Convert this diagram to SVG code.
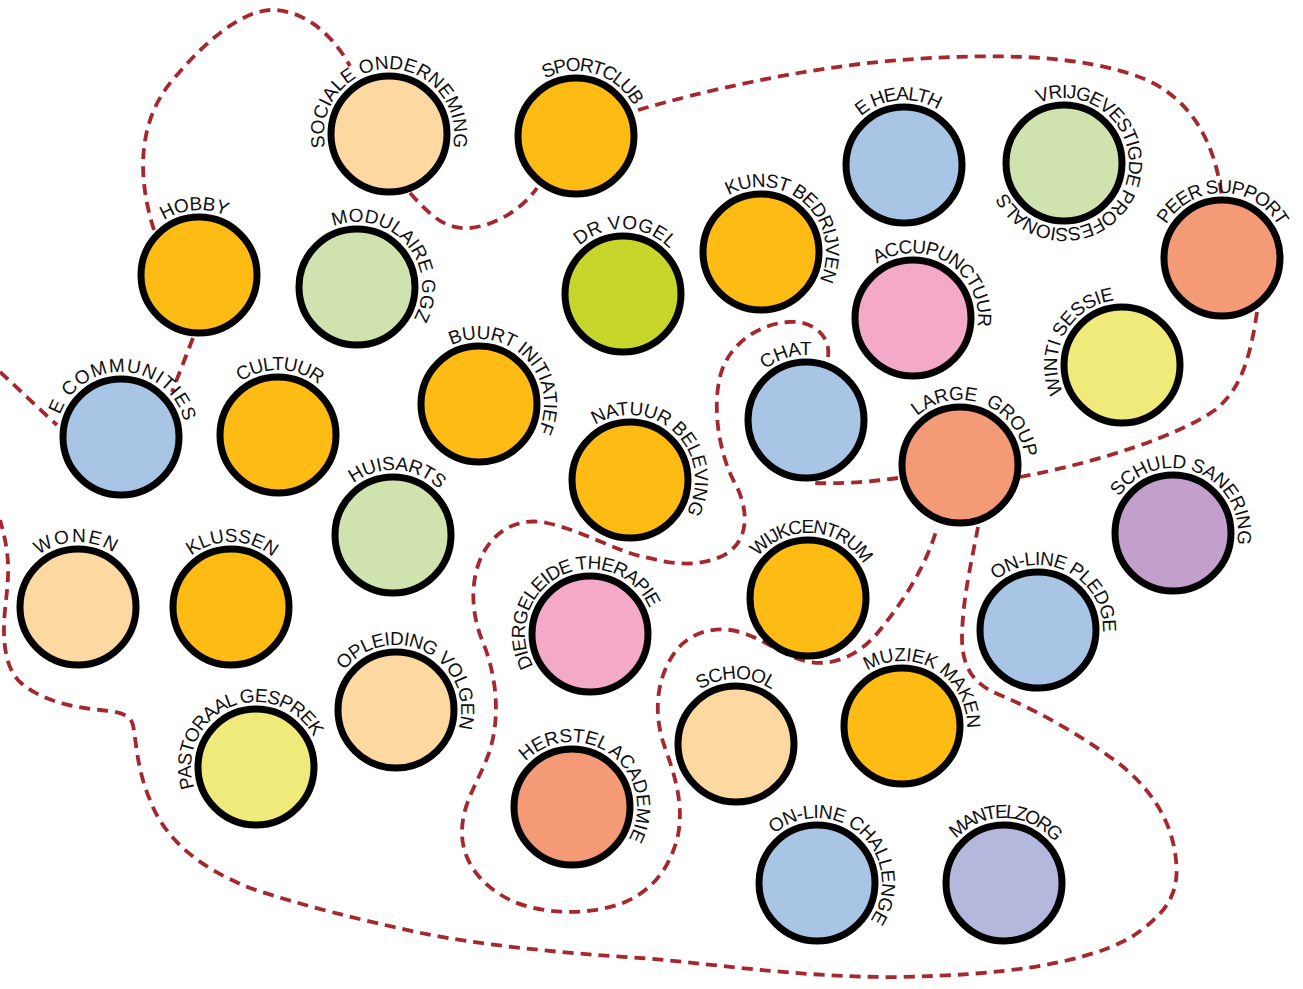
<svg xmlns="http://www.w3.org/2000/svg" xmlns:xlink="http://www.w3.org/1999/xlink" width="1303" height="989" viewBox="0 0 1303 989">
<style>
.n circle{stroke:#000;stroke-width:7}
.n text{font-family:"Liberation Sans",Arial,sans-serif;font-size:19px;fill:#111}
.c path{fill:none;stroke:#A5282E;stroke-width:3.8;stroke-dasharray:11 7;stroke-linecap:butt}
.or{fill:#FDBB14}.pe{fill:#FDD8A0}.bl{fill:#A9C5E6}.gr{fill:#D0E3AE}.li{fill:#C8D62B}
.pk{fill:#F4A9C8}.ye{fill:#EFEA79}.sa{fill:#F49A77}.pu{fill:#C39FCB}.la{fill:#B4B8DD}
</style>
<defs>
<path id="ring" d="M0,65 A65,65 0 1 1 0,-65 A65,65 0 1 1 0,65"/>
</defs>
<rect width="1303" height="989" fill="#fff"/>
<g id="connectors" class="c">
<path d="M0,372 C20,390 40,410 57,425"/>
<path d="M193,338 L172,392"/>
<path d="M154,230 C138,180 135,120 177,75 C205,42 240,12 270,10 C300,9 330,30 350,66"/>
<path d="M410,193 C430,215 445,230 470,228 C500,225 525,205 537,188"/>
<path d="M638,110 C700,92 800,68 900,60 C980,54 1080,52 1147,80 C1190,100 1215,140 1222,198"/>
<path d="M1257,312 C1250,360 1240,390 1215,410 C1180,435 1100,462 1020,477"/>
<path d="M898,478 C870,482 840,484 815,483"/>
<path d="M828,357 C831,335 812,320 788,322 C762,324 733,340 722,370 C711,402 718,455 737,487 C750,515 748,545 720,557 C692,569 665,562 640,556 C615,550 580,530 547,523 C525,518 500,525 485,550 C470,575 470,610 482,640 C494,668 502,710 490,750 C480,780 463,800 462,830 C461,860 480,885 510,900 C540,914 585,916 620,904 C650,893 670,870 678,835 C684,805 675,775 664,745 C654,715 655,680 675,652 C690,632 715,625 740,632 C765,639 785,658 810,662 C835,666 860,655 880,630 C900,605 925,570 937,528"/>
<path d="M978,527 C972,560 962,600 962,640 C963,670 975,685 1000,695 C1040,712 1080,735 1110,757 C1150,785 1172,820 1176,860 C1180,895 1165,915 1130,938 C1080,965 1000,975 900,977 C800,978 700,962 640,958 C560,953 480,945 421,933 C360,920 300,905 250,888 C200,868 165,840 150,800 C137,770 136,740 133,725 C130,714 120,712 100,710 C70,707 40,700 20,682 C5,668 2,640 5,610 C8,580 12,560 0,520"/>
</g>
<g id="sociale-onderneming" class="n" transform="translate(389,134)"><circle r="58" class="pe"/><text transform="rotate(0)"><textPath xlink:href="#ring" href="#ring" startOffset="50%" text-anchor="middle" textLength="231">SOCIALE ONDERNEMING</textPath></text></g>
<g id="sportclub" class="n" transform="translate(576,136)"><circle r="58" class="or"/><text transform="rotate(17)"><textPath href="#ring" startOffset="50%" text-anchor="middle" textLength="103">SPORTCLUB</textPath></text></g>
<g id="e-health" class="n" transform="translate(904,165)"><circle r="58" class="bl"/><text transform="rotate(-5)"><textPath href="#ring" startOffset="50%" text-anchor="middle" textLength="83">E HEALTH</textPath></text></g>
<g id="vrijgevestigde" class="n" transform="translate(1064,163)"><circle r="58" class="gr"/><text transform="rotate(110)"><textPath href="#ring" startOffset="50%" text-anchor="middle" textLength="302">VRIJGEVESTIGDE PROFESSIONALS</textPath></text></g>
<g id="peer-support" class="n" transform="translate(1222,258)"><circle r="58" class="sa"/><text transform="rotate(1)"><textPath href="#ring" startOffset="50%" text-anchor="middle" textLength="136">PEER SUPPORT</textPath></text></g>
<g id="hobby" class="n" transform="translate(199,275)"><circle r="58" class="or"/><text transform="rotate(-4)"><textPath href="#ring" startOffset="50%" text-anchor="middle" textLength="65">HOBBY</textPath></text></g>
<g id="modulaire-ggz" class="n" transform="translate(357,287)"><circle r="58" class="gr"/><text transform="rotate(49)"><textPath href="#ring" startOffset="50%" text-anchor="middle" textLength="159">MODULAIRE GGZ</textPath></text></g>
<g id="dr-vogel" class="n" transform="translate(623,294)"><circle r="58" class="li"/><text transform="rotate(2)"><textPath href="#ring" startOffset="50%" text-anchor="middle" textLength="100">DR VOGEL</textPath></text></g>
<g id="kunst-bedrijven" class="n" transform="translate(761,252)"><circle r="58" class="or"/><text transform="rotate(43)"><textPath href="#ring" startOffset="50%" text-anchor="middle" textLength="165">KUNST BEDRIJVEN</textPath></text></g>
<g id="accupunctuur" class="n" transform="translate(913,318)"><circle r="58" class="pk"/><text transform="rotate(32)"><textPath href="#ring" startOffset="50%" text-anchor="middle" textLength="149">ACCUPUNCTUUR</textPath></text></g>
<g id="winti-sessie" class="n" transform="translate(1122,365)"><circle r="58" class="ye"/><text transform="rotate(-61)"><textPath href="#ring" startOffset="50%" text-anchor="middle" textLength="123">WINTI SESSIE</textPath></text></g>
<g id="e-communities" class="n" transform="translate(121,437)"><circle r="58" class="bl"/><text transform="rotate(3)"><textPath href="#ring" startOffset="50%" text-anchor="middle" textLength="166">E COMMUNITIES</textPath></text></g>
<g id="cultuur" class="n" transform="translate(278,435)"><circle r="58" class="or"/><text transform="rotate(2)"><textPath href="#ring" startOffset="50%" text-anchor="middle" textLength="84">CULTUUR</textPath></text></g>
<g id="buurt-initiatief" class="n" transform="translate(479,404)"><circle r="58" class="or"/><text transform="rotate(45)"><textPath href="#ring" startOffset="50%" text-anchor="middle" textLength="159">BUURT INITIATIEF</textPath></text></g>
<g id="natuur-beleving" class="n" transform="translate(630,480)"><circle r="58" class="or"/><text transform="rotate(44)"><textPath href="#ring" startOffset="50%" text-anchor="middle" textLength="173">NATUUR BELEVING</textPath></text></g>
<g id="chat" class="n" transform="translate(806,420)"><circle r="58" class="bl"/><text transform="rotate(-17)"><textPath href="#ring" startOffset="50%" text-anchor="middle" textLength="50">CHAT</textPath></text></g>
<g id="large-group" class="n" transform="translate(960,465)"><circle r="58" class="sa"/><text transform="rotate(21)"><textPath href="#ring" startOffset="50%" text-anchor="middle" textLength="141" xml:space="preserve">LARGE  GROUP</textPath></text></g>
<g id="schuld-sanering" class="n" transform="translate(1173,533)"><circle r="58" class="pu"/><text transform="rotate(22)"><textPath href="#ring" startOffset="50%" text-anchor="middle" textLength="177">SCHULD SANERING</textPath></text></g>
<g id="huisarts" class="n" transform="translate(393,535)"><circle r="58" class="gr"/><text transform="rotate(4)"><textPath href="#ring" startOffset="50%" text-anchor="middle" textLength="94">HUISARTS</textPath></text></g>
<g id="wonen" class="n" transform="translate(78,607)"><circle r="58" class="pe"/><text transform="rotate(-2)"><textPath href="#ring" startOffset="50%" text-anchor="middle" textLength="80">WONEN</textPath></text></g>
<g id="klussen" class="n" transform="translate(231,607)"><circle r="58" class="or"/><text transform="rotate(1)"><textPath href="#ring" startOffset="50%" text-anchor="middle" textLength="88">KLUSSEN</textPath></text></g>
<g id="diergeleide-therapie" class="n" transform="translate(590,634)"><circle r="58" class="pk"/><text transform="rotate(-26.5)"><textPath href="#ring" startOffset="50%" text-anchor="middle" textLength="211">DIERGELEIDE THERAPIE</textPath></text></g>
<g id="wijkcentrum" class="n" transform="translate(808,598)"><circle r="58" class="or"/><text transform="rotate(4)"><textPath href="#ring" startOffset="50%" text-anchor="middle" textLength="124">WIJKCENTRUM</textPath></text></g>
<g id="on-line-pledge" class="n" transform="translate(1038,630)"><circle r="58" class="bl"/><text transform="rotate(26)"><textPath href="#ring" startOffset="50%" text-anchor="middle" textLength="150">ON-LINE PLEDGE</textPath></text></g>
<g id="opleiding-volgen" class="n" transform="translate(396,710)"><circle r="58" class="pe"/><text transform="rotate(27)"><textPath href="#ring" startOffset="50%" text-anchor="middle" textLength="180">OPLEIDING VOLGEN</textPath></text></g>
<g id="pastoraal-gesprek" class="n" transform="translate(256,767)"><circle r="58" class="ye"/><text transform="rotate(-23)"><textPath href="#ring" startOffset="50%" text-anchor="middle" textLength="194">PASTORAAL GESPREK</textPath></text></g>
<g id="school" class="n" transform="translate(736,744)"><circle r="58" class="pe"/><text transform="rotate(0)"><textPath href="#ring" startOffset="50%" text-anchor="middle" textLength="76">SCHOOL</textPath></text></g>
<g id="muziek-maken" class="n" transform="translate(902,726)"><circle r="58" class="or"/><text transform="rotate(30)"><textPath href="#ring" startOffset="50%" text-anchor="middle" textLength="141">MUZIEK MAKEN</textPath></text></g>
<g id="herstel-academie" class="n" transform="translate(572,807)"><circle r="58" class="sa"/><text transform="rotate(37)"><textPath href="#ring" startOffset="50%" text-anchor="middle" textLength="187">HERSTEL ACADEMIE</textPath></text></g>
<g id="on-line-challenge" class="n" transform="translate(817,883)"><circle r="58" class="bl"/><text transform="rotate(42)"><textPath href="#ring" startOffset="50%" text-anchor="middle" textLength="188">ON-LINE CHALLENGE</textPath></text></g>
<g id="mantelzorg" class="n" transform="translate(1004,883)"><circle r="58" class="la"/><text transform="rotate(2)"><textPath href="#ring" startOffset="50%" text-anchor="middle" textLength="112">MANTELZORG</textPath></text></g>
</svg>
